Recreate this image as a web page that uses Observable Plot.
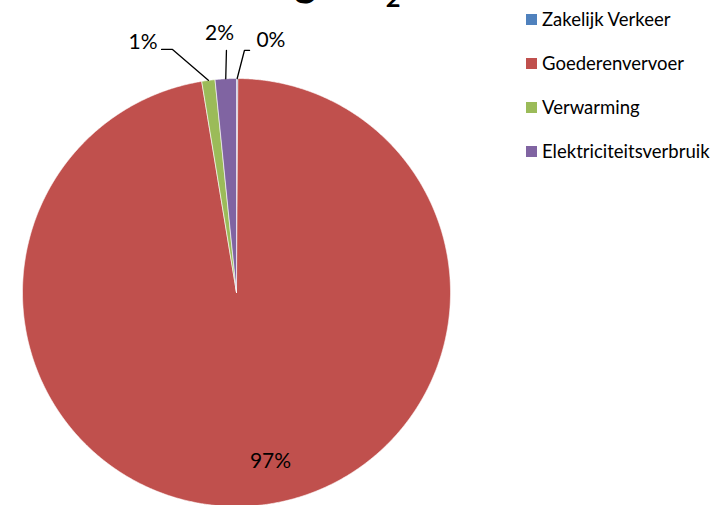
<!DOCTYPE html>
<html><head><meta charset="utf-8">
<script src="https://cdn.jsdelivr.net/npm/d3@7"></script>
<script src="https://cdn.jsdelivr.net/npm/@observablehq/plot@0.6"></script>
<style>
html,body{margin:0;padding:0;background:#fff;overflow:hidden}
#wrap{position:relative;width:718px;height:505px;overflow:hidden;font-family:Lato,"Open Sans",sans-serif}
#title{position:absolute;left:0;top:-47px;width:698px;text-align:center;font-weight:bold;font-size:41px;line-height:55px;height:55px;white-space:nowrap;color:#000}
#title sub{font-size:0.62em;vertical-align:-0.42em;line-height:0}
#legend{position:absolute;left:526px;top:-3px}
.row{display:flex;align-items:center;height:44px;font-size:18.5px;color:#000;white-space:nowrap}
.sw{width:11px;height:11px;margin-right:5px;flex:none}
svg{position:absolute;left:0;top:0}
</style></head><body><div id="wrap"><div id="title"></div><div id="legend"></div></div>
<script>
// Data
const titleMain = "Verdeling CO";
const titleSub = "2";
const titleEnd = " uitstoot";
const categories = ["Zakelijk Verkeer", "Goederenvervoer", "Verwarming", "Elektriciteitsverbruik"];
const values = [0.1, 97.3, 1.0, 1.6];
const labels = ["0%", "97%", "1%", "2%"];
const colors = ["#4F81BD", "#C0504D", "#9BBB59", "#8064A2"];

// Label layout (unit-circle coordinates), separate from the data
const labelLayout = [
  {leader: [[0.037, 1.131], [0.061, 1.131]], pos: [0.093, 1.178], anchor: "start"},
  {leader: null, pos: [0.159, -0.790], anchor: "middle"},
  {leader: [[-0.299, 1.136], [-0.350, 1.136]], pos: [-0.369, 1.168], anchor: "end"},
  {leader: [[-0.047, 1.131]], pos: [-0.079, 1.210], anchor: "middle"}
];

const total = d3.sum(values);
const rows = [];
const leaders = [];
const texts = [];
let acc = 0;
categories.forEach((cat, i) => {
  const a0 = acc / total * 2 * Math.PI;
  acc += values[i];
  const a1 = acc / total * 2 * Math.PI;
  rows.push({cat, x: 0, y: 0});
  const n = Math.max(2, Math.ceil((a1 - a0) / 0.005));
  for (let k = 0; k <= n; k++) {
    const a = a0 + (a1 - a0) * k / n;
    rows.push({cat, x: Math.sin(a), y: Math.cos(a)});
  }
  rows.push({cat, x: 0, y: 0});
  const am = (a0 + a1) / 2;
  const L = labelLayout[i];
  if (L.leader) {
    const pts = [[Math.sin(am), Math.cos(am)], ...L.leader];
    pts.forEach(p => leaders.push({cat, x: p[0], y: p[1]}));
  }
  texts.push({label: labels[i], x: L.pos[0], y: L.pos[1], anchor: L.anchor});
});

const cx = 236, cy = 292, r = 214;
const plot = Plot.plot({
  width: 718, height: 505,
  margin: 0,
  x: {domain: [-1, 1], range: [cx - r, cx + r], axis: null},
  y: {domain: [-1, 1], range: [cy + r, cy - r], axis: null},
  color: {domain: categories, range: colors},
  style: {fontFamily: "Lato, 'Open Sans', sans-serif", background: "transparent", overflow: "visible"},
  marks: [
    Plot.line(rows, {x: "x", y: "y", z: "cat", fill: "cat", stroke: "white", strokeWidth: 0.6, curve: "linear"}),
    Plot.line(leaders, {x: "x", y: "y", z: "cat", stroke: "black", strokeWidth: 1.3}),
    ...["start", "middle", "end"].map(a =>
      Plot.text(texts.filter(t => t.anchor === a), {x: "x", y: "y", text: "label", textAnchor: a, fontSize: 21, fill: "black"}))
  ]
});
document.getElementById("wrap").appendChild(plot);

const t = document.getElementById("title");
t.append(titleMain);
const s = document.createElement("sub"); s.textContent = titleSub; t.append(s);
t.append(titleEnd);

const lg = document.getElementById("legend");
categories.forEach((c, i) => {
  const row = document.createElement("div"); row.className = "row";
  const sw = document.createElement("span"); sw.className = "sw"; sw.style.background = colors[i];
  const tx = document.createElement("span"); tx.textContent = c;
  row.append(sw, tx); lg.append(row);
});
</script></body></html>
